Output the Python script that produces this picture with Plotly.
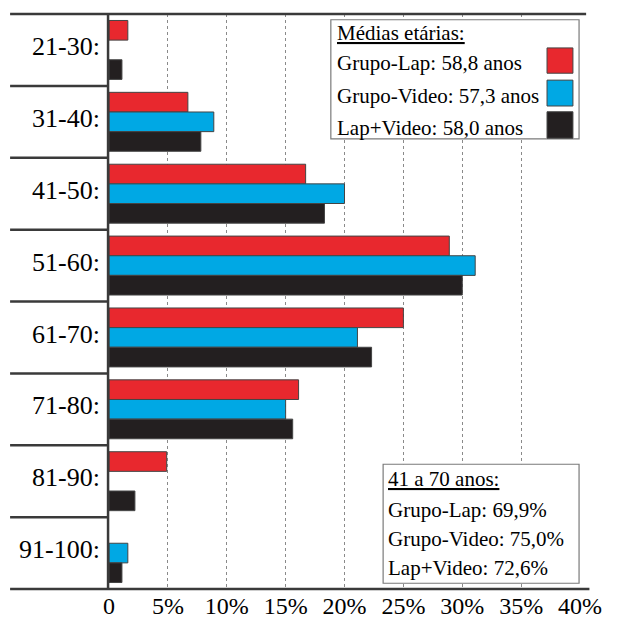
import plotly.graph_objects as go

# Age bands (top to bottom) and the share of each group, in percent.
age_groups = ["21-30:", "31-40:", "41-50:", "51-60:", "61-70:", "71-80:", "81-90:", "91-100:"]
grupo_lap = [1.6, 6.7, 16.7, 28.9, 25.0, 16.1, 4.9, None]
grupo_video = [None, 8.9, 20.0, 31.1, 21.1, 15.0, None, 1.6]
lap_video = [1.1, 7.8, 18.3, 30.0, 22.3, 15.6, 2.2, 1.1]

series_names = ["Grupo-Lap", "Grupo-Video", "Lap+Video"]
mean_ages = ["58,8", "57,3", "58,0"]
share_41_70 = ["69,9%", "75,0%", "72,6%"]

tick_values = [0, 5, 10, 15, 20, 25, 30, 35, 40]
tick_labels = ["0", "5%", "10%", "15%", "20%", "25%", "30%", "35%", "40%"]

_COLORS = ["#E8282E", "#00A8E4", "#231F20"]
_LINE = "#3a3a3a"
_FONT = "Liberation Serif, Times New Roman, serif"

fig = go.Figure()
for name, values, color in zip(series_names, [grupo_lap, grupo_video, lap_video], _COLORS):
    fig.add_trace(go.Bar(
        y=age_groups,
        x=values,
        name=name,
        orientation="h",
        marker={"color": color, "line": {"color": "#444444", "width": 1}},
    ))

n = len(age_groups)
shapes = []
# left separators between age bands (top and bottom run across the whole chart)
for i in range(n + 1):
    y = 1 - i / n
    x1 = 0
    if i == 0:
        x1 = 1.013
    elif i == n:
        x1 = 1.02
    shapes.append({"type": "line", "xref": "paper", "yref": "paper",
                   "x0": -0.21, "x1": x1, "y0": y, "y1": y,
                   "line": {"color": _LINE, "width": 2.5}})
# vertical axis line
shapes.append({"type": "line", "xref": "paper", "yref": "paper",
               "x0": -0.002, "x1": -0.002, "y0": 0, "y1": 1,
               "line": {"color": _LINE, "width": 2.5}})
# the two text boxes
for box in [(0.471, 0.783, 0.998, 0.990), (0.582, 0.010, 0.998, 0.217)]:
    shapes.append({"type": "rect", "xref": "paper", "yref": "paper",
                   "x0": box[0], "y0": box[1], "x1": box[2], "y1": box[3],
                   "fillcolor": "white", "line": {"color": "#7a7a7a", "width": 1.2}})
# colour swatches in the first box
for (y0, y1), color in zip([(0.897, 0.941), (0.840, 0.885), (0.784, 0.830)], _COLORS):
    shapes.append({"type": "rect", "xref": "paper", "yref": "paper",
                   "x0": 0.930, "x1": 0.985, "y0": y0, "y1": y1,
                   "fillcolor": color, "line": {"color": "#444444", "width": 1}})

annotations = []
box1_lines = ["<u>Médias etárias:</u>"] + [f"{s}: {a} anos" for s, a in zip(series_names, mean_ages)]
for text, y in zip(box1_lines, [0.967, 0.915, 0.857, 0.802]):
    annotations.append({"text": text, "xref": "paper", "yref": "paper", "x": 0.480, "y": y,
                        "xanchor": "left", "yanchor": "middle", "showarrow": False})
box2_lines = ["<u>41 a 70 anos:</u>"] + [f"{s}: {p}" for s, p in zip(series_names, share_41_70)]
for text, y in zip(box2_lines, [0.191, 0.137, 0.087, 0.037]):
    annotations.append({"text": text, "xref": "paper", "yref": "paper", "x": 0.589, "y": y,
                        "xanchor": "left", "yanchor": "middle", "showarrow": False})

fig.update_layout(
    width=622,
    height=620,
    margin={"l": 109, "r": 42, "t": 14, "b": 31},
    paper_bgcolor="white",
    plot_bgcolor="white",
    barmode="group",
    bargap=0.18,
    bargroupgap=0,
    showlegend=False,
    font={"family": _FONT, "size": 21, "color": "black"},
    shapes=shapes,
    annotations=annotations,
    xaxis={"range": [0, 40], "tickvals": tick_values, "ticktext": tick_labels,
           "showgrid": True, "gridcolor": "#8a8a8a", "gridwidth": 1, "griddash": "dot",
           "zeroline": False, "showline": False, "ticks": "", "automargin": False,
           "tickfont": {"size": 24, "family": _FONT}},
    yaxis={"type": "category", "categoryarray": age_groups, "range": [n - 0.5, -0.5],
           "showgrid": False, "zeroline": False, "showline": False, "ticks": "",
           "automargin": False, "ticklabelstandoff": 8, "ticklabelshift": 4,
           "tickfont": {"size": 26, "family": _FONT}},
)

# the page's default body margin would otherwise push the 622x620 figure off the window
fig.write_html("out.html", config={"displayModeBar": False},
               post_script="document.body.style.margin='0';"
                           "document.body.style.overflow='hidden';")
